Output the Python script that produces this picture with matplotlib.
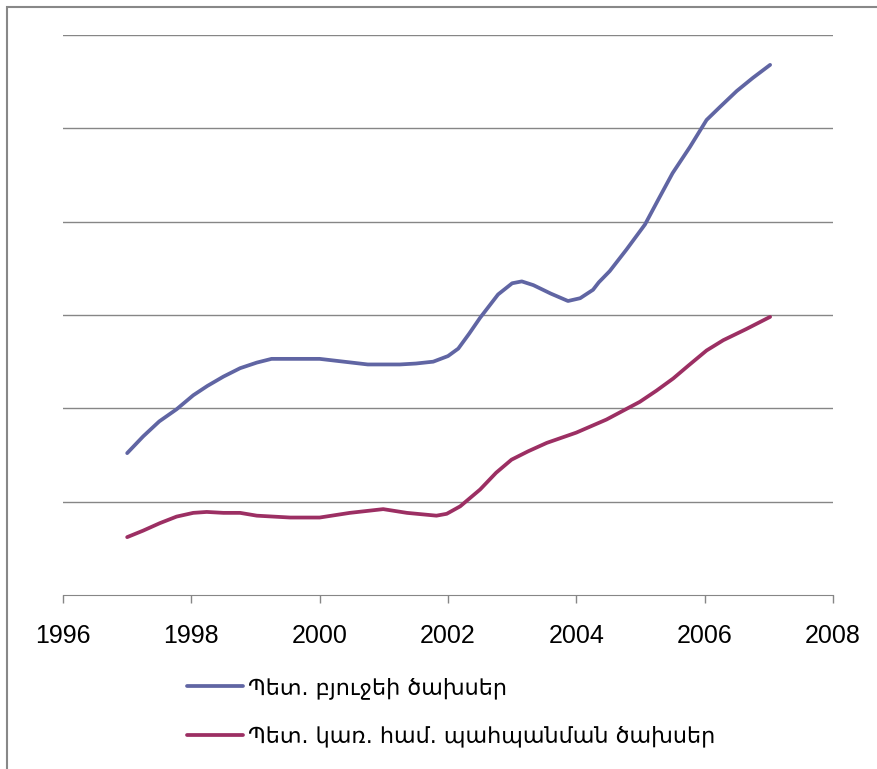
import matplotlib
matplotlib.use('Agg')
import matplotlib.pyplot as plt
from matplotlib.patches import Rectangle

# budget expenditure series (decimal year, value)
budget_years = [1997.0, 1997.25, 1997.5, 1997.77, 1998.03, 1998.25, 1998.5, 1998.76,
                1999.02, 1999.25, 1999.5, 1999.75, 2000.0, 2000.25, 2000.5, 2000.75,
                2001.0, 2001.25, 2001.5, 2001.77, 2002.0, 2002.16, 2002.33, 2002.5,
                2002.78, 2003.0, 2003.15, 2003.33, 2003.6, 2003.87, 2004.06, 2004.26,
                2004.35, 2004.52, 2004.78, 2005.07, 2005.28, 2005.5, 2005.77, 2006.03,
                2006.24, 2006.5, 2006.75, 2007.02]
budget_vals = [1.52, 1.70, 1.86, 1.99, 2.14, 2.24, 2.34, 2.43,
               2.49, 2.53, 2.53, 2.53, 2.53, 2.51, 2.49, 2.47,
               2.47, 2.47, 2.48, 2.50, 2.56, 2.64, 2.80, 2.97,
               3.22, 3.34, 3.36, 3.32, 3.23, 3.15, 3.18, 3.27,
               3.35, 3.47, 3.70, 3.97, 4.24, 4.52, 4.80, 5.09,
               5.23, 5.40, 5.54, 5.68]

# government administration maintenance expenditure
admin_years = [1997.0, 1997.25, 1997.51, 1997.77, 1998.03, 1998.24, 1998.5, 1998.76,
               1999.02, 1999.54, 2000.0, 2000.47, 2000.99, 2001.36, 2001.82, 2001.98,
               2002.19, 2002.5, 2002.75, 2002.99, 2003.25, 2003.54, 2004.0, 2004.47,
               2004.99, 2005.25, 2005.51, 2005.75, 2006.03, 2006.29, 2006.65, 2007.02]
admin_vals = [0.62, 0.69, 0.77, 0.84, 0.88, 0.89, 0.88, 0.88,
              0.85, 0.83, 0.83, 0.88, 0.92, 0.88, 0.85, 0.87,
              0.95, 1.13, 1.31, 1.45, 1.54, 1.63, 1.74, 1.88,
              2.07, 2.19, 2.32, 2.46, 2.62, 2.73, 2.85, 2.98]

labels = ['Պետ. բյուջեի ծախսեր', 'Պետ. կառ. համ. պահպանման ծախսեր']
xticks = [1996, 1998, 2000, 2002, 2004, 2006, 2008]

W, H = 878, 769
fig = plt.figure(figsize=(W / 100, H / 100), dpi=100)
ax = fig.add_axes([63 / W, (H - 595) / H, 770 / W, 560 / H])

grid_c = '#868686'
ax.plot(budget_years, budget_vals, color='#6065A3', lw=2.7, solid_capstyle='round',
        solid_joinstyle='round', label=labels[0])
ax.plot(admin_years, admin_vals, color='#9C2F63', lw=2.7, solid_capstyle='round',
        solid_joinstyle='round', label=labels[1])

ax.set_xlim(1996, 2008)
ax.set_ylim(0, 6)
ax.set_yticks([1, 2, 3, 4, 5, 6])
ax.yaxis.grid(True, color=grid_c, lw=1)
ax.tick_params(axis='y', left=False, labelleft=False)
ax.set_xticks(xticks)
ax.set_xticklabels([str(x) for x in xticks],
                   fontdict={'family': ['Liberation Sans', 'DejaVu Sans'], 'size': 18})
ax.tick_params(axis='x', direction='out', length=6, width=1, color=grid_c, pad=15)
for side in ['top', 'right', 'left']:
    ax.spines[side].set_visible(False)
ax.spines['bottom'].set_color(grid_c)
ax.set_axisbelow(True)

leg = ax.legend(loc='upper left', bbox_to_anchor=(187 / W, 1 - 677 / H),
                bbox_transform=fig.transFigure, frameon=False,
                borderpad=0, borderaxespad=0,
                handlelength=2.5, handletextpad=0.25, labelspacing=1.2,
                prop={'family': ['DejaVu Sans'], 'size': 16})

# outer chart border
fig.add_artist(Rectangle((7 / W, -0.1), 1.2, 1 - 7 / H + 0.1, transform=fig.transFigure,
                         fill=False, edgecolor='#888888', lw=1.5))

fig.savefig('out.png', dpi=100)
